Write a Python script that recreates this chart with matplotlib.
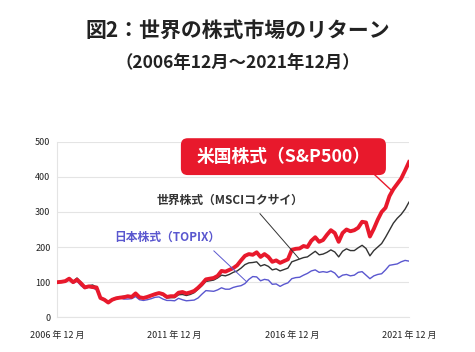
import matplotlib
matplotlib.use('Agg')
import matplotlib.pyplot as plt
from matplotlib.patches import FancyBboxPatch

plt.rcParams['font.family'] = ['Noto Sans CJK JP', 'DejaVu Sans']

# months since Dec 2006, every 2 months
months = list(range(0, 181, 2))

sp500 = [100, 101, 103, 110, 100, 107, 97, 85, 88, 86, 85, 55, 50, 42, 50, 54,
         56, 57, 60, 58, 68, 57, 55, 58, 62, 66, 69, 66, 58, 60, 60, 70, 72, 68,
         71, 75, 84, 95, 108, 110, 112, 118, 132, 130, 135, 140, 148, 162, 175,
         180, 178, 185, 172, 180, 172, 158, 162, 155, 160, 165, 192, 195, 196,
         203, 200, 218, 228, 215, 220, 235, 248, 240, 215, 240, 250, 245, 248,
         255, 272, 270, 230, 252, 278, 300, 312, 345, 365, 380, 395, 418, 442]

msci = [100, 101, 104, 108, 102, 112, 100, 88, 90, 92, 86, 56, 52, 44, 52, 56,
        58, 60, 61, 58, 67, 56, 55, 58, 60, 64, 67, 63, 55, 56, 56, 64, 65, 62,
        65, 70, 80, 90, 102, 104, 106, 112, 120, 118, 122, 128, 132, 140, 150,
        155, 156, 158, 146, 150, 145, 135, 138, 132, 136, 140, 158, 162, 166,
        170, 172, 180, 188, 178, 180, 185, 192, 186, 172, 188, 195, 190, 190,
        198, 205, 196, 175, 190, 200, 210, 228, 248, 268, 282, 293, 308, 328]

topix = [100, 100, 102, 106, 97, 103, 90, 82, 86, 84, 78, 56, 52, 44, 50, 54,
         56, 52, 52, 53, 59, 50, 48, 50, 53, 57, 58, 52, 48, 48, 47, 54, 50, 47,
         48, 49, 55, 66, 76, 75, 74, 78, 84, 80, 80, 85, 88, 90, 96, 108, 116,
         115, 104, 108, 106, 94, 95, 88, 94, 98, 110, 113, 114, 120, 125, 132,
         135, 128, 130, 128, 132, 126, 113, 120, 122, 118, 120, 128, 130, 120,
         110, 118, 122, 124, 135, 148, 150, 152, 158, 162, 160]

tick_pos = [0, 60, 120, 180]
tick_labels = ['2006 年 12 月', '2011 年 12 月', '2016 年 12 月', '2021 年 12 月']

red = '#e8192c'
dark = '#333333'
blue = '#5a57cf'

fig = plt.figure(figsize=(4.75, 3.52), dpi=100)
ax = fig.add_axes([0.121, 0.0986, 0.74, 0.4988])

ax.plot(months, topix, color=blue, linewidth=1.0, zorder=3)
ax.plot(months, msci, color=dark, linewidth=1.0, zorder=4)
ax.plot(months, sp500, color=red, linewidth=2.8, zorder=5)

ax.set_xlim(0, 180)
ax.set_ylim(0, 500)
ax.set_yticks([0, 100, 200, 300, 400, 500])
ax.set_xticks(tick_pos)
ax.set_xticklabels(tick_labels)
ax.tick_params(length=0, labelsize=6.5, colors='#222222')
ax.tick_params(axis='x', pad=10)
ax.tick_params(axis='y', pad=5)
ax.grid(axis='y', color='#e4e4e4', linewidth=0.8)
ax.set_axisbelow(True)
for s in ['top', 'right']:
    ax.spines[s].set_visible(False)
for s in ['left', 'bottom']:
    ax.spines[s].set_color('#e4e4e4')
    ax.spines[s].set_linewidth(0.8)

# red label box
box = FancyBboxPatch((63.2, 405), 105, 105, boxstyle='round,pad=0,rounding_size=3.5',
                     transform=ax.transData, facecolor=red, edgecolor='none',
                     clip_on=False, zorder=6, mutation_aspect=5.5)
ax.add_patch(box)
ax.text(115.7, 457, '米国株式（S&P500）', color='white', fontsize=12.8,
        fontweight='bold', ha='center', va='center', zorder=7, clip_on=False)
ax.plot([162.6, 171.1], [405, 361], color=red, linewidth=1.0, zorder=6)

ax.text(88.3, 334, '世界株式（MSCIコクサイ）', color=dark, fontsize=8.5,
        fontweight='bold', ha='center', va='center', zorder=7)
ax.plot([103.7, 123.7], [295, 167], color=dark, linewidth=0.7, zorder=6)

ax.text(56.3, 228, '日本株式（TOPIX）', color=blue, fontsize=8.5,
        fontweight='bold', ha='center', va='center', zorder=7)
ax.plot([80.1, 96.9], [189, 101], color=blue, linewidth=0.7, zorder=6)

fig.text(0.5, 0.915, '図2：世界の株式市場のリターン', ha='center', va='center',
         fontsize=15, fontweight='bold', color='#222222')
fig.text(0.5, 0.82, '（2006年12月〜2021年12月）', ha='center', va='center',
         fontsize=12.5, fontweight='bold', color='#222222')

fig.savefig('out.png', dpi=100)
